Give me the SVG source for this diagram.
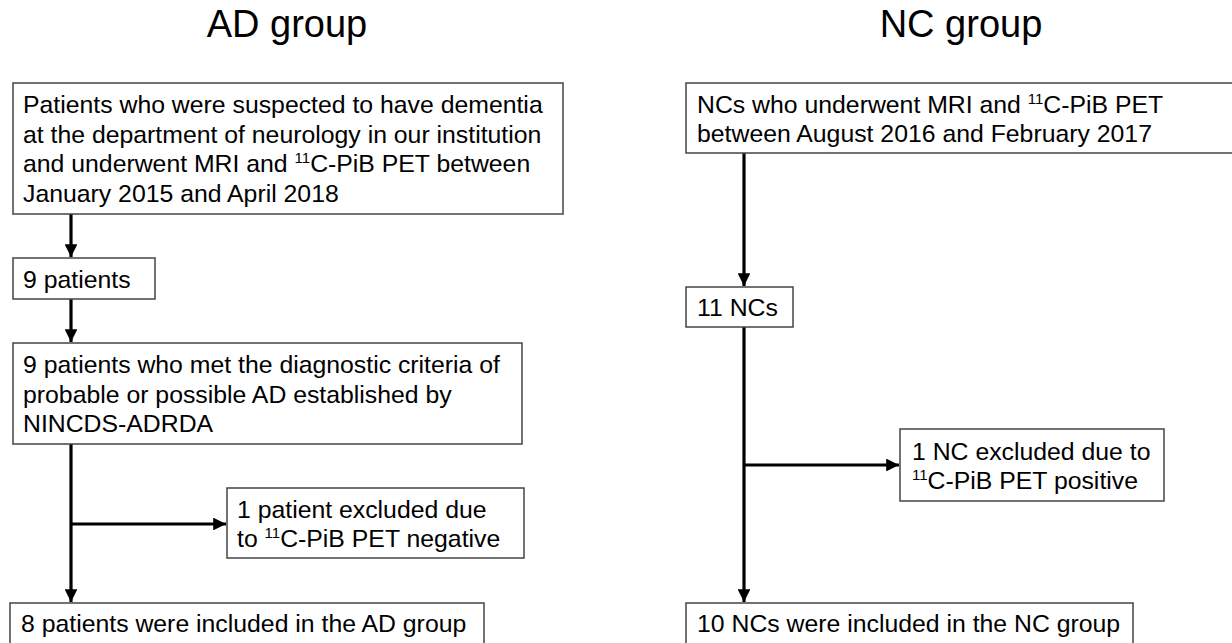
<svg xmlns="http://www.w3.org/2000/svg" width="1232" height="643" viewBox="0 0 1232 643">
<defs>
<style>
.box{fill:#fff;stroke:#444;stroke-width:1.5}
.t{font-family:"Liberation Sans",Arial,sans-serif;font-size:24.8px;fill:#000}
.title{font-family:"Liberation Sans",Arial,sans-serif;font-size:38px;fill:#000;text-anchor:middle}
.sup{font-size:15px}
.ln{stroke:#000;stroke-width:3.2;fill:none}
</style>
<marker id="ah" viewBox="0 0 10 10" refX="10" refY="5" markerWidth="4" markerHeight="4" orient="auto" markerUnits="strokeWidth">
<path d="M0,0 L10,5 L0,10 Z" fill="#000"/>
</marker>
</defs>
<rect width="1232" height="643" fill="#fff"/>
<text class="title" x="287" y="37">AD group</text>
<text class="title" x="961" y="37">NC group</text>

<g id="connectors">
<line class="ln" x1="71" y1="214" x2="71" y2="257" marker-end="url(#ah)"/>
<line class="ln" x1="71" y1="299" x2="71" y2="342" marker-end="url(#ah)"/>
<line class="ln" x1="71" y1="444" x2="71" y2="602" marker-end="url(#ah)"/>
<line class="ln" x1="71" y1="524" x2="226" y2="524" marker-end="url(#ah)"/>
<line class="ln" x1="744" y1="153" x2="744" y2="286" marker-end="url(#ah)"/>
<line class="ln" x1="744" y1="327" x2="744" y2="602" marker-end="url(#ah)"/>
<line class="ln" x1="744" y1="465" x2="899" y2="465" marker-end="url(#ah)"/>
</g>

<g id="ad1">
<rect class="box" x="13" y="83" width="550" height="131"/>
<text class="t" x="23" y="113">Patients who were suspected to have dementia</text>
<text class="t" x="23" y="142.5">at the department of neurology in our institution</text>
<text class="t" x="23" y="172">and underwent MRI and <tspan class="sup" dy="-9">11</tspan><tspan dy="9">C-PiB PET between</tspan></text>
<text class="t" x="23" y="201.5">January 2015 and April 2018</text>
</g>
<g id="ad2">
<rect class="box" x="13" y="258" width="142" height="41"/>
<text class="t" x="23" y="287.5">9 patients</text>
</g>
<g id="ad3">
<rect class="box" x="13" y="343" width="509" height="101"/>
<text class="t" x="23" y="373">9 patients who met the diagnostic criteria of</text>
<text class="t" x="23" y="402.5">probable or possible AD established by</text>
<text class="t" x="23" y="432">NINCDS-ADRDA</text>
</g>
<g id="ad4">
<rect class="box" x="227" y="488" width="297" height="70"/>
<text class="t" x="237" y="517.5">1 patient excluded due</text>
<text class="t" x="237" y="547">to <tspan class="sup" dy="-9">11</tspan><tspan dy="9">C-PiB PET negative</tspan></text>
</g>
<g id="ad5">
<rect class="box" x="10" y="603" width="474" height="45"/>
<text class="t" x="21" y="632">8 patients were included in the AD group</text>
</g>

<g id="nc1">
<rect class="box" x="686" y="83" width="552" height="70"/>
<text class="t" x="697" y="112.5">NCs who underwent MRI and <tspan class="sup" dy="-9">11</tspan><tspan dy="9">C-PiB PET</tspan></text>
<text class="t" x="697" y="142">between August 2016 and February 2017</text>
</g>
<g id="nc2">
<rect class="box" x="686" y="287" width="107" height="40"/>
<text class="t" x="697" y="316">11 NCs</text>
</g>
<g id="nc3">
<rect class="box" x="900" y="429" width="264" height="72"/>
<text class="t" x="912" y="459.5">1 NC excluded due to</text>
<text class="t" x="912" y="489"><tspan class="sup" dy="-9">11</tspan><tspan dy="9">C-PiB PET positive</tspan></text>
</g>
<g id="nc4">
<rect class="box" x="686" y="603" width="447" height="45"/>
<text class="t" x="697" y="632">10 NCs were included in the NC group</text>
</g>
</svg>
